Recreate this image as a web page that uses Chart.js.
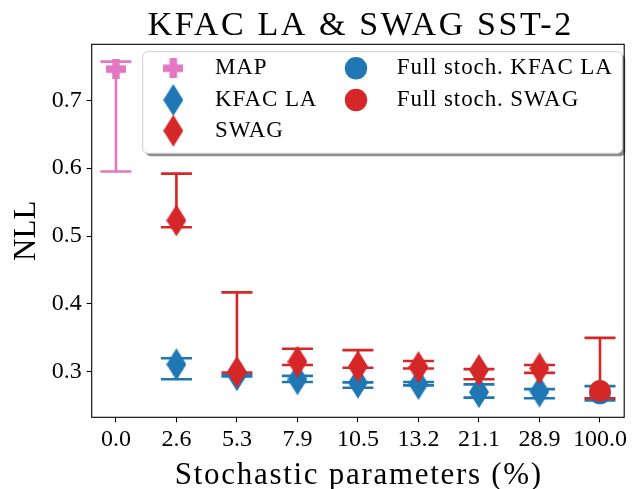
<!DOCTYPE html>
<html>
<head>
<meta charset="utf-8">
<script src="https://cdn.jsdelivr.net/npm/chart.js@4.4.1/dist/chart.umd.min.js"></script>
<style>
  html, body { margin: 0; padding: 0; background: #fff; }
  #wrap { width: 635px; height: 489px; }
</style>
</head>
<body>
<div id="wrap"><canvas id="nll" width="635" height="489"></canvas></div>
<script>
// x positions are category indices; labels are % of stochastic parameters
const categories = ["0.0", "2.6", "5.3", "7.9", "10.5", "13.2", "21.1", "28.9", "100.0"];
const yTicks = [0.3, 0.4, 0.5, 0.6, 0.7];

// NLL value and lower/upper ends of the bar, null where a method has no run
const mapNll  = [0.746, null, null, null, null, null, null, null, null];
const mapLow  = [0.595, null, null, null, null, null, null, null, null];
const mapHigh = [0.757, null, null, null, null, null, null, null, null];

const kfacNll  = [null, 0.311, 0.295, 0.289, 0.284, 0.282, 0.270, 0.271, null];
const kfacLow  = [null, 0.289, 0.293, 0.285, 0.2765, 0.280, 0.262, 0.261, null];
const kfacHigh = [null, 0.320, 0.296, 0.294, 0.2845, 0.285, 0.2815, 0.2745, null];

const swagNll  = [null, 0.523, 0.300, 0.315, 0.308, 0.307, 0.3025, 0.305, null];
const swagLow  = [null, 0.513, 0.299, 0.310, 0.306, 0.305, 0.289, 0.2985, null];
const swagHigh = [null, 0.592, 0.417, 0.334, 0.332, 0.316, 0.304, 0.310, null];

const fullKfacNll  = [null, null, null, null, null, null, null, null, 0.268];
const fullKfacLow  = [null, null, null, null, null, null, null, null, 0.258];
const fullKfacHigh = [null, null, null, null, null, null, null, null, 0.279];

const fullSwagNll  = [null, null, null, null, null, null, null, null, 0.272];
const fullSwagLow  = [null, null, null, null, null, null, null, null, 0.261];
const fullSwagHigh = [null, null, null, null, null, null, null, null, 0.350];

const PINK = "#e377c2", BLUE = "#1f77b4", RED = "#d62728";
const SERIF = '"Liberation Serif", "Times New Roman", serif';

function points(vals, lows, highs) {
  const out = [];
  vals.forEach((v, i) => {
    if (v !== null) out.push({ x: i, y: v, lo: lows[i], hi: highs[i] });
  });
  return out;
}

// filled plus marker
function plusMarker(color) {
  const size = 20, arm = 7.5;
  const c = document.createElement("canvas");
  c.width = size; c.height = size;
  const g = c.getContext("2d");
  g.fillStyle = color;
  const o = (size - arm) / 2;
  g.fillRect(o, 0, arm, size);
  g.fillRect(0, o, size, arm);
  return c;
}

// thin diamond marker
function diamondMarker(color) {
  const w = 20, h = 32;
  const c = document.createElement("canvas");
  c.width = w; c.height = h;
  const g = c.getContext("2d");
  g.fillStyle = color;
  g.beginPath();
  g.moveTo(w / 2, 0); g.lineTo(w, h / 2); g.lineTo(w / 2, h); g.lineTo(0, h / 2);
  g.closePath();
  g.fill();
  return c;
}

const series = [
  { label: "MAP", data: points(mapNll, mapLow, mapHigh), color: PINK, marker: plusMarker(PINK), radius: 10 },
  { label: "KFAC LA", data: points(kfacNll, kfacLow, kfacHigh), color: BLUE, marker: diamondMarker(BLUE), radius: 10 },
  { label: "SWAG", data: points(swagNll, swagLow, swagHigh), color: RED, marker: diamondMarker(RED), radius: 10 },
  { label: "Full stoch. KFAC LA", data: points(fullKfacNll, fullKfacLow, fullKfacHigh), color: BLUE, marker: "circle", radius: 10.8 },
  { label: "Full stoch. SWAG", data: points(fullSwagNll, fullSwagLow, fullSwagHigh), color: RED, marker: "circle", radius: 10.8 },
];

// later series sit on top, like consecutive errorbar calls
const datasets = series.map((s, i) => ({
  label: s.label,
  data: s.data,
  backgroundColor: s.color,
  borderColor: s.color,
  borderWidth: 0,
  pointStyle: s.marker,
  pointRadius: s.radius,
  pointHoverRadius: s.radius,
  showLine: false,
  order: series.length - i,
}));

// vertical bar with caps, drawn just before each dataset's markers
const errorBars = {
  id: "errorBars",
  beforeDatasetDraw(chart, args) {
    const ds = chart.data.datasets[args.index];
    const y = chart.scales.y;
    const ctx = chart.ctx;
    const cap = 15.5;
    ctx.save();
    ctx.strokeStyle = ds.borderColor;
    ctx.lineWidth = 2.6;
    args.meta.data.forEach((pt, i) => {
      const d = ds.data[i];
      const top = y.getPixelForValue(d.hi);
      const bot = y.getPixelForValue(d.lo);
      ctx.beginPath();
      ctx.moveTo(pt.x, top); ctx.lineTo(pt.x, bot);
      ctx.moveTo(pt.x - cap, top); ctx.lineTo(pt.x + cap, top);
      ctx.moveTo(pt.x - cap, bot); ctx.lineTo(pt.x + cap, bot);
      ctx.stroke();
    });
    ctx.restore();
  }
};

function spacedText(ctx, text, x, y, spacing) {
  ctx.letterSpacing = spacing + "px";
  ctx.fillText(text, x + spacing / 2, y);
  ctx.letterSpacing = "0px";
}

// frame, title, axis labels and the two-column legend
const decorations = {
  id: "decorations",
  afterDraw(chart) {
    const ctx = chart.ctx;
    const a = chart.chartArea;
    const cx = (a.left + a.right) / 2;
    ctx.save();

    ctx.strokeStyle = "#000";
    ctx.lineWidth = 1.1;
    ctx.strokeRect(a.left, a.top, a.right - a.left, a.bottom - a.top);

    ctx.fillStyle = "#000";
    ctx.textAlign = "center";
    ctx.textBaseline = "alphabetic";
    ctx.font = "34px " + SERIF;
    spacedText(ctx, "KFAC LA & SWAG SST-2", cx + 1.5, 35, 2.6);

    ctx.font = "31px " + SERIF;
    spacedText(ctx, "Stochastic parameters (%)", cx, 484, 1.7);

    ctx.save();
    ctx.translate(27, (a.top + a.bottom) / 2);
    ctx.rotate(-Math.PI / 2);
    ctx.textBaseline = "middle";
    ctx.fillText("NLL", 0, 0);
    ctx.restore();

    // legend box with drop shadow
    const bx = 142.7, by = 51.7, bw = 479.6, bh = 101.6;
    ctx.fillStyle = "rgba(0,0,0,0.45)";
    ctx.beginPath();
    ctx.roundRect(bx + 3, by + 3, bw, bh, 5);
    ctx.fill();
    ctx.fillStyle = "#fff";
    ctx.strokeStyle = "#cccccc";
    ctx.lineWidth = 1;
    ctx.beginPath();
    ctx.roundRect(bx, by, bw, bh, 5);
    ctx.fill();
    ctx.stroke();

    const cols = [{ mx: 173.3, tx: 215 }, { mx: 356, tx: 396.7 }];
    const rows = [68.3, 100, 130.7];
    ctx.font = "23px " + SERIF;
    ctx.textAlign = "left";
    ctx.textBaseline = "middle";
    series.forEach((s, i) => {
      const col = cols[i < 3 ? 0 : 1];
      const ry = rows[i < 3 ? i : i - 3];
      if (s.marker === "circle") {
        ctx.fillStyle = s.color;
        ctx.beginPath();
        ctx.arc(col.mx, ry, 11.2, 0, Math.PI * 2);
        ctx.fill();
      } else {
        ctx.drawImage(s.marker, col.mx - s.marker.width / 2, ry - s.marker.height / 2);
      }
      ctx.fillStyle = "#000";
      ctx.letterSpacing = "0.9px";
      ctx.fillText(s.label, col.tx, ry);
      ctx.letterSpacing = "0px";
    });

    ctx.restore();
  }
};

new Chart(document.getElementById("nll"), {
  type: "scatter",
  data: { datasets },
  options: {
    responsive: false,
    devicePixelRatio: 1,
    animation: false,
    layout: { padding: { top: 44.3, right: 6.7, bottom: 0, left: 0 } },
    plugins: {
      legend: { display: false },
      tooltip: { enabled: false },
      title: { display: false },
    },
    scales: {
      x: {
        type: "linear",
        min: -0.4,
        max: 8.4,
        afterBuildTicks: (s) => { s.ticks = categories.map((c, i) => ({ value: i })); },
        afterFit: (s) => { s.height = 71.7; s.paddingLeft = 0; s.paddingRight = 0; },
        ticks: {
          callback: (v) => categories[v],
          font: { family: SERIF, size: 24 },
          color: "#000",
          padding: 3.3,
          maxRotation: 0,
          autoSkip: false,
        },
        grid: { drawOnChartArea: false, drawTicks: true, tickLength: 5, tickColor: "#000", tickWidth: 1.1 },
        border: { display: false },
      },
      y: {
        min: 0.233,
        max: 0.7825,
        afterBuildTicks: (s) => { s.ticks = yTicks.map((v) => ({ value: v })); },
        afterFit: (s) => { s.width = 91.7; s.paddingTop = 0; s.paddingBottom = 0; },
        ticks: {
          callback: (v) => v.toFixed(1),
          font: { family: SERIF, size: 24 },
          color: "#000",
          padding: 5,
        },
        grid: { drawOnChartArea: false, drawTicks: true, tickLength: 5, tickColor: "#000", tickWidth: 1.1 },
        border: { display: false },
      },
    },
  },
  plugins: [errorBars, decorations],
});
</script>
</body>
</html>
